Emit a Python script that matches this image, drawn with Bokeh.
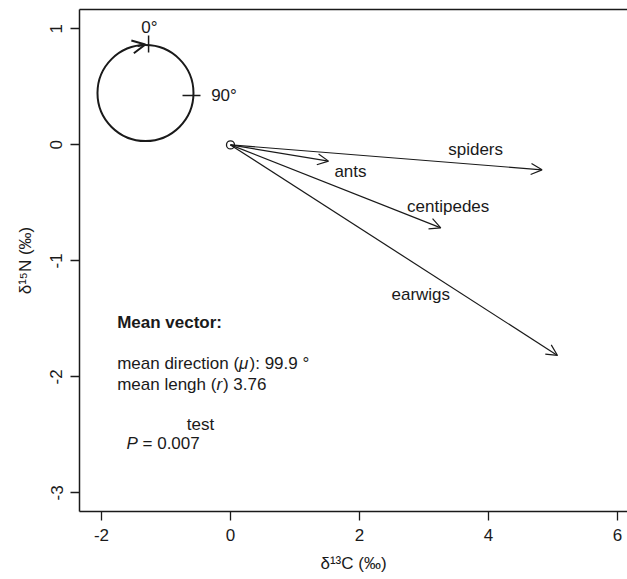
from bokeh.plotting import figure
from bokeh.models import (ColumnDataSource, Arrow, OpenHead, FixedTicker, LinearAxis, Range1d)
from bokeh.core.properties import value
from bokeh.embed import file_html
from bokeh.resources import INLINE

# ---- data ----
groups = ["ants", "spiders", "centipedes", "earwigs"]
d13C = [1.52, 4.83, 3.26, 5.07]
d15N = [-0.14, -0.215, -0.715, -1.815]
label_x = [1.86, 3.80, 3.375, 2.95]
label_y = [-0.228, -0.04, -0.529, -1.29]
x_ticks = [-2, 0, 2, 4, 6]
y_ticks = [-3, -2, -1, 0, 1]
mean_dir = 99.9
mean_len = 3.76
p_value = 0.007

FONT = "Liberation Sans"
FSZ = 17
FS = f"{FSZ}px"
INK = "#1a1a1a"

p = figure(width=627, height=579, output_backend="svg", toolbar_location=None,
           x_range=Range1d(-2.341, 6.155), y_range=Range1d(-3.16, 1.167),
           min_border_left=79, min_border_right=0, min_border_top=9, min_border_bottom=68)
p.outline_line_color = None
p.grid.visible = False
p.background_fill_color = "white"

for ax in (p.xaxis[0], p.yaxis[0]):
    ax.axis_line_width = 1.5
    ax.axis_line_color = INK
    ax.major_tick_out = 9
    ax.major_tick_in = 0
    ax.major_tick_line_width = 1.3
    ax.major_tick_line_color = INK
    ax.minor_tick_out = 0
    ax.minor_tick_in = 0
    ax.major_label_text_font = FONT
    ax.major_label_text_font_size = FS
    ax.major_label_text_color = INK
    ax.axis_label_text_font = FONT
    ax.axis_label_text_font_size = FS
    ax.axis_label_text_font_style = "normal"
    ax.axis_label_text_color = INK

p.xaxis.ticker = FixedTicker(ticks=x_ticks)
p.yaxis.ticker = FixedTicker(ticks=y_ticks)
p.xaxis.major_label_overrides = {t: str(t) for t in x_ticks}
p.yaxis.major_label_overrides = {t: str(t) for t in y_ticks}
p.xaxis.axis_label = "δ¹³C (‰)"
p.yaxis.axis_label = "δ¹⁵N (‰)"
p.xaxis.major_label_standoff = 8
p.xaxis.axis_label_standoff = 10
p.yaxis.major_label_standoff = 8
p.yaxis.axis_label_standoff = 13
p.yaxis.major_label_orientation = "vertical"

top = LinearAxis(ticker=FixedTicker(ticks=[]), major_label_text_font_size="0px",
                 major_tick_out=0, major_tick_in=0, minor_tick_out=0, minor_tick_in=0,
                 major_label_standoff=0, axis_line_width=1.5, axis_line_color=INK)
p.add_layout(top, "above")

# ---- compass decoration ----
cx, cy = -1.318, 0.447
p.scatter([cx], [cy], marker="circle", size=96, fill_color=None, line_color=INK, line_width=2)
p.add_layout(Arrow(end=OpenHead(size=13, line_width=2, line_color=INK),
                   x_start=-1.44, y_start=0.853, x_end=-1.32, y_end=0.866,
                   line_color=INK, line_width=2))
p.segment([-1.27], [0.942], [-1.27], [0.796], line_color=INK, line_width=1.5)
p.segment([-0.744], [0.425], [-0.465], [0.425], line_color=INK, line_width=1.5)
p.text([-1.256], [1.011], text=["0°"], text_font=value(FONT), text_font_size=FS,
       text_color=INK, text_align="center", text_baseline="middle")
p.text([-0.30], [0.425], text=["90°"], text_font=value(FONT), text_font_size=FS,
       text_color=INK, text_align="left", text_baseline="middle")

# ---- vectors ----
src = ColumnDataSource(dict(x0=[0] * len(groups), y0=[0] * len(groups), x1=d13C, y1=d15N,
                            lx=label_x, ly=label_y, name=groups))
p.add_layout(Arrow(end=OpenHead(size=11, line_width=1.2, line_color=INK),
                   x_start="x0", y_start="y0", x_end="x1", y_end="y1", source=src,
                   line_color=INK, line_width=1.2))
p.scatter([0], [0], marker="circle", size=8, fill_color=None, line_color=INK, line_width=1.3)
p.text("lx", "ly", text="name", source=src, text_font=value(FONT), text_font_size=FS,
       text_color=INK, text_align="center", text_baseline="middle")

# ---- annotations ----
ax0 = -1.757
p.text([ax0], [-1.532], text=["Mean vector:"], text_font=value(FONT), text_font_size=FS,
       text_font_style="bold", text_color=INK, text_baseline="middle")

def piece(x, y, s, off, style="normal"):
    p.text([x], [y], text=[s], x_offset=off, text_font=value(FONT), text_font_size=FS,
           text_font_style=style, text_color=INK, text_baseline="middle")

piece(ax0, -1.884, "mean direction (", 0)
piece(ax0, -1.884, "μ", 7.169 * FSZ, "italic")
piece(ax0, -1.884, f"): {mean_dir} °", 7.169 * FSZ + 10.5)
piece(ax0, -2.066, "mean lengh (", 0)
piece(ax0, -2.066, "r", 5.836 * FSZ, "italic")
piece(ax0, -2.066, f") {mean_len}", 5.836 * FSZ + 6.5)
p.text([-0.465], [-2.411], text=["test"], text_font=value(FONT), text_font_size=FS,
       text_color=INK, text_align="center", text_baseline="middle")
piece(-1.612, -2.575, "P", 0, "italic")
piece(-1.612, -2.575, f"= {p_value}", 16)

open("out.html", "w").write(file_html(p, INLINE))
